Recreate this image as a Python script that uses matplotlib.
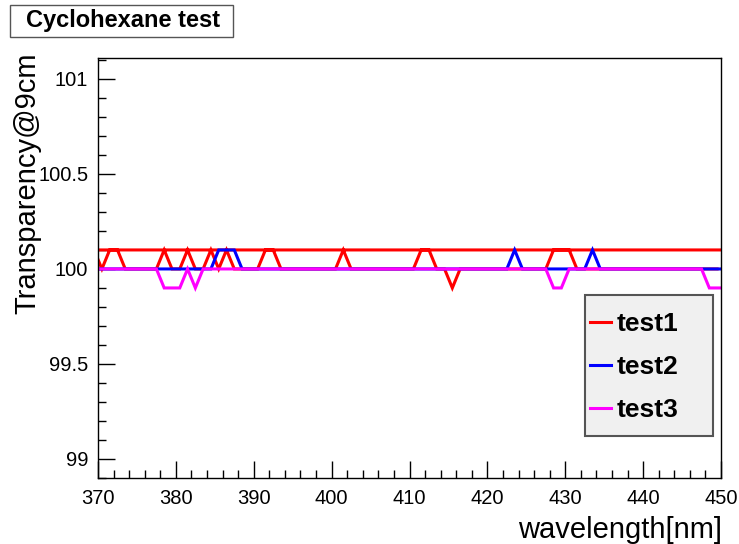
import matplotlib
matplotlib.use("Agg")
import matplotlib.pyplot as plt
from matplotlib.ticker import MultipleLocator
from matplotlib.patches import Rectangle

plt.rcParams['font.family'] = ['Liberation Sans', 'DejaVu Sans']

# wavelength grid (nm) of the measurements
wavelength = [k + 0.5 for k in range(369, 451)]

# wavelengths where the transparency (%) leaves 100
test1_high = [369.5, 371.5, 372.5, 378.5, 381.5, 384.5, 386.5, 391.5, 392.5, 401.5,
              411.5, 412.5, 428.5, 429.5, 430.5, 450.5]
test1_low = [415.5]
test2_high = [385.5, 386.5, 387.5, 423.5, 433.5]
test3_low = [378.5, 379.5, 380.5, 382.5, 428.5, 429.5, 448.5, 449.5, 450.5]

test1 = [100.1 if w in test1_high else (99.9 if w in test1_low else 100.0) for w in wavelength]
test2 = [100.1 if w in test2_high else 100.0 for w in wavelength]
test3 = [99.9 if w in test3_low else 100.0 for w in wavelength]

# test1 points are stored with the last point first (graph order)
test1_order = [wavelength[-1]] + wavelength[:-1]
test1_vals = [test1[-1]] + test1[:-1]

series = [("test1", test1_order, test1_vals, "#ff0000"),
          ("test2", wavelength, test2, "#0000ff"),
          ("test3", wavelength, test3, "#ff00ff")]

title = "Cyclohexane test"
xlabel = "wavelength[nm]"
ylabel = "Transparency@9cm"
yticks = [99, 99.5, 100, 100.5, 101]
yticklabels = ["99", "99.5", "100", "100.5", "101"]

W, H = 739, 544
fig = plt.figure(figsize=(W/100, H/100), dpi=100)
ax = fig.add_axes([98/W, 1-478/H, (721-98)/W, (478-58)/H])

for name, x, y, c in series:
    ax.plot(x, y, color=c, lw=2.2, label=name, solid_joinstyle='miter')

ax.set_xlim(370, 450)
ax.set_ylim(98.9, 101.11)
ax.xaxis.set_major_locator(MultipleLocator(10))
ax.xaxis.set_minor_locator(MultipleLocator(2))
ax.set_yticks(yticks)
ax.set_yticklabels(yticklabels)
ax.yaxis.set_minor_locator(MultipleLocator(0.1))
ax.tick_params(which='both', direction='in', top=False, right=False, width=1)
ax.tick_params(which='major', length=12)
ax.tick_params(which='minor', length=6)
ax.tick_params(axis='x', which='major', pad=8, labelsize=14.5)
ax.tick_params(axis='y', which='major', pad=7, labelsize=14.5)
for s in ax.spines.values():
    s.set_linewidth(1)

fig.text(722/W, 1-538/H, xlabel, ha='right', va='baseline', fontsize=21)
fig.text(27/W, 1-183/H, ylabel, ha='center', va='center', rotation=90, fontsize=21)

# title box
fig.patches.append(Rectangle((10/W, 1-37/H), 223/W, 32/H, transform=fig.transFigure,
                             fc='white', ec='#555555', lw=1))
fig.text(123/W, 1-21/H, title, ha='center', va='center', fontsize=17, fontweight='bold')

# legend box and entries
ax.add_patch(Rectangle((585/W, 1-436/H), 128/W, 141/H, transform=fig.transFigure,
                       fc='#f0f0f0', ec='#555555', lw=1.5, zorder=4, clip_on=False))
fsz = 19 * 100 / 72
leg = ax.legend(loc='upper left',
                bbox_to_anchor=(590/W, 1-312/H), bbox_transform=fig.transFigure,
                frameon=False, prop={'weight': 'bold', 'size': 19},
                handlelength=21/fsz, handletextpad=6/fsz, labelspacing=19/fsz,
                borderpad=0, borderaxespad=0)
leg.set_zorder(5)

fig.savefig("out.png", dpi=100)
